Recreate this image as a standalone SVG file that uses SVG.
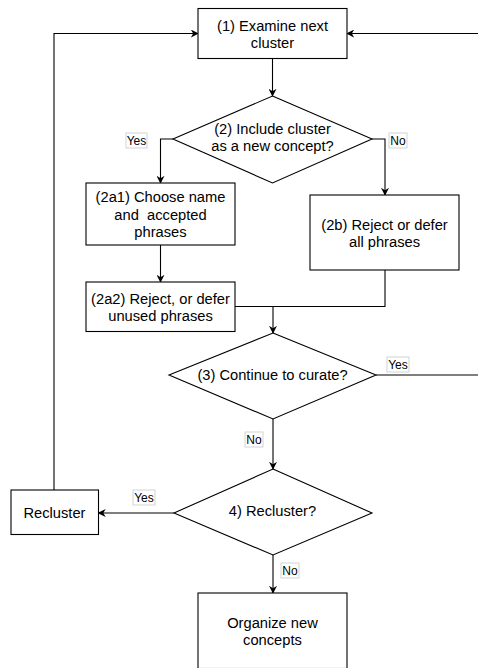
<svg xmlns="http://www.w3.org/2000/svg" width="478" height="668" viewBox="0 0 478 668">
<style>
.n{fill:#fff;stroke:#000;stroke-width:1.1}
.t{font-family:"Liberation Sans",Arial,sans-serif;font-size:14.7px;fill:#000;text-anchor:middle;dominant-baseline:central;white-space:pre}
.e{fill:none;stroke:#000;stroke-width:1.1}
.lb{fill:#fff;stroke:#c8c8c8;stroke-width:0.8}
.lt{font-family:"Liberation Sans",Arial,sans-serif;font-size:12px;fill:#000;text-anchor:middle;dominant-baseline:central}
</style>
<defs>
<marker id="a" viewBox="0 0 10 10" refX="9" refY="5" markerWidth="8" markerHeight="8" markerUnits="userSpaceOnUse" orient="auto">
<path d="M0,0 L10,5 L0,10 L3,5 Z" fill="#000"/>
</marker>
</defs>
<rect width="478" height="668" fill="#fff"/>
<g id="connectors">
<path class="e" d="M272.5,58 V96" marker-end="url(#a)"/>
<path class="e" d="M478,33.5 H347" marker-end="url(#a)"/>
<path class="e" d="M54,490 V33.5 H198" marker-end="url(#a)"/>
<path class="e" d="M173,139 H160.5 V183" marker-end="url(#a)"/>
<path class="e" d="M372,139 H385 V195" marker-end="url(#a)"/>
<path class="e" d="M160.5,245 V282" marker-end="url(#a)"/>
<path class="e" d="M385,270 V306.5 H273"/>
<path class="e" d="M235,306.5 H273"/>
<path class="e" d="M273,306.5 V333" marker-end="url(#a)"/>
<path class="e" d="M376,375 H478"/>
<path class="e" d="M273,419 V469" marker-end="url(#a)"/>
<path class="e" d="M174,513 H98.5" marker-end="url(#a)"/>
<path class="e" d="M273,555 V593" marker-end="url(#a)"/>
<rect class="lb" x="126" y="133" width="21" height="15"/>
<text class="lt" x="136.5" y="140.5">Yes</text>
<rect class="lb" x="389" y="133" width="18" height="15"/>
<text class="lt" x="398" y="140.5">No</text>
<rect class="lb" x="387" y="357" width="22" height="15"/>
<text class="lt" x="398" y="364.5">Yes</text>
<rect class="lb" x="245" y="432" width="18" height="15"/>
<text class="lt" x="254" y="439.5">No</text>
<rect class="lb" x="133" y="490" width="22" height="15"/>
<text class="lt" x="144" y="497.5">Yes</text>
<rect class="lb" x="281" y="563" width="18" height="15"/>
<text class="lt" x="290" y="570.5">No</text>
</g>
<g id="n1">
<rect class="n" x="198" y="8.5" width="149" height="50"/>
<text class="t" x="272.5" y="26">(1) Examine next</text>
<text class="t" x="272.5" y="43">cluster</text>
</g>
<g id="n2">
<polygon class="n" points="272.5,96 372,139 272.5,183 173,139"/>
<text class="t" x="272.5" y="129">(2) Include cluster</text>
<text class="t" x="272.5" y="146">as a new concept?</text>
</g>
<g id="n2a1">
<rect class="n" x="86" y="183" width="149" height="62"/>
<text class="t" x="160.5" y="197">(2a1) Choose name</text>
<text class="t" x="160.5" y="214.5" xml:space="preserve">and  accepted</text>
<text class="t" x="160.5" y="231.5">phrases</text>
</g>
<g id="n2b">
<rect class="n" x="310" y="195" width="149" height="75"/>
<text class="t" x="384.5" y="224.5">(2b) Reject or defer</text>
<text class="t" x="384.5" y="241.5">all phrases</text>
</g>
<g id="n2a2">
<rect class="n" x="86" y="282" width="149" height="49.5"/>
<text class="t" x="160.5" y="299">(2a2) Reject, or defer</text>
<text class="t" x="160.5" y="316">unused phrases</text>
</g>
<g id="n3">
<polygon class="n" points="273,333 376,375 273,419 169,375"/>
<text class="t" x="272.5" y="375">(3) Continue to curate?</text>
</g>
<g id="n4">
<polygon class="n" points="273,469 372,513 273,555 174,513"/>
<text class="t" x="272.5" y="511">4) Recluster?</text>
</g>
<g id="nR">
<rect class="n" x="11" y="490" width="87.5" height="44.5"/>
<text class="t" x="54.5" y="512.5">Recluster</text>
</g>
<g id="nO">
<rect class="n" x="198" y="593" width="149" height="75.5"/>
<text class="t" x="272.5" y="622.5">Organize new</text>
<text class="t" x="272.5" y="640">concepts</text>
</g>
</svg>
